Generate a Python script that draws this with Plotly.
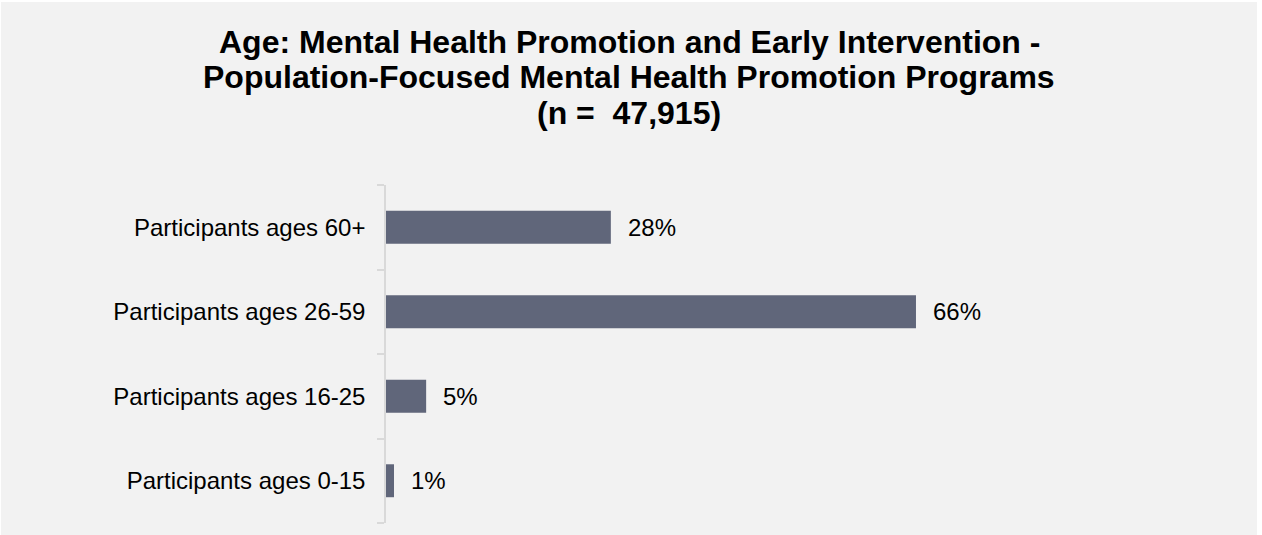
import plotly.graph_objects as go

categories = ["Participants ages 60+", "Participants ages 26-59",
              "Participants ages 16-25", "Participants ages 0-15"]
values = [28, 66, 5, 1]
value_labels = ["28%", "66%", "5%", "1%"]
title_lines = ["Age: Mental Health Promotion and Early Intervention -",
               "Population-Focused Mental Health Promotion Programs",
               "(n =  47,915)"]

W, H = 1256, 533
ML, MR, MT, MB = 385, 68, 183, 12
PW = W - ML - MR
PH = H - MT - MB

def px_to_paper_x(px):
    return (px - ML) / PW

def px_to_paper_y(py):
    return (H - MB - py) / PH

FONT = "Arial, Liberation Sans, sans-serif"

fig = go.Figure()
fig.add_trace(go.Bar(
    y=categories, x=values, orientation="h",
    marker=dict(color="#60667a", line=dict(width=0)),
    width=0.39, hoverinfo="skip",
))

annotations = []
for cat, v, lab in zip(categories, values, value_labels):
    annotations.append(dict(
        x=v, y=cat, xref="x", yref="y", text=lab, showarrow=False,
        xanchor="left", yanchor="middle", xshift=15,
        font=dict(family=FONT, size=24, color="#000000"),
    ))

title_y = [39.5, 75, 111]
for t, ty in zip(title_lines, title_y):
    annotations.append(dict(
        x=px_to_paper_x(W / 2), y=px_to_paper_y(ty), xref="paper", yref="paper",
        text="<b>" + t + "</b>", showarrow=False, xanchor="center", yanchor="middle",
        font=dict(family=FONT, size=32, color="#000000"),
    ))

fig.update_layout(
    width=W, height=H,
    margin=dict(l=ML, r=MR, t=MT, b=MB, pad=0),
    paper_bgcolor="#f2f2f2", plot_bgcolor="#f2f2f2",
    showlegend=False,
    annotations=annotations,
    bargap=0.61,
)
fig.update_xaxes(range=[0, 100], visible=False, showgrid=False, zeroline=False)
fig.update_yaxes(
    categoryorder="array", categoryarray=categories[::-1],
    showline=True, linecolor="#d9d9d9", linewidth=1.5,
    ticks="outside", ticklen=7, tickcolor="#d9d9d9", tickwidth=1.5,
    tickson="boundaries", showgrid=False, zeroline=False,
    ticklabelstandoff=14,
    tickfont=dict(family=FONT, size=24, color="#000000"),
)

fig.write_html("out.html", post_script="document.body.style.margin='2px 0 0 1px';document.body.style.background='#ffffff';")
